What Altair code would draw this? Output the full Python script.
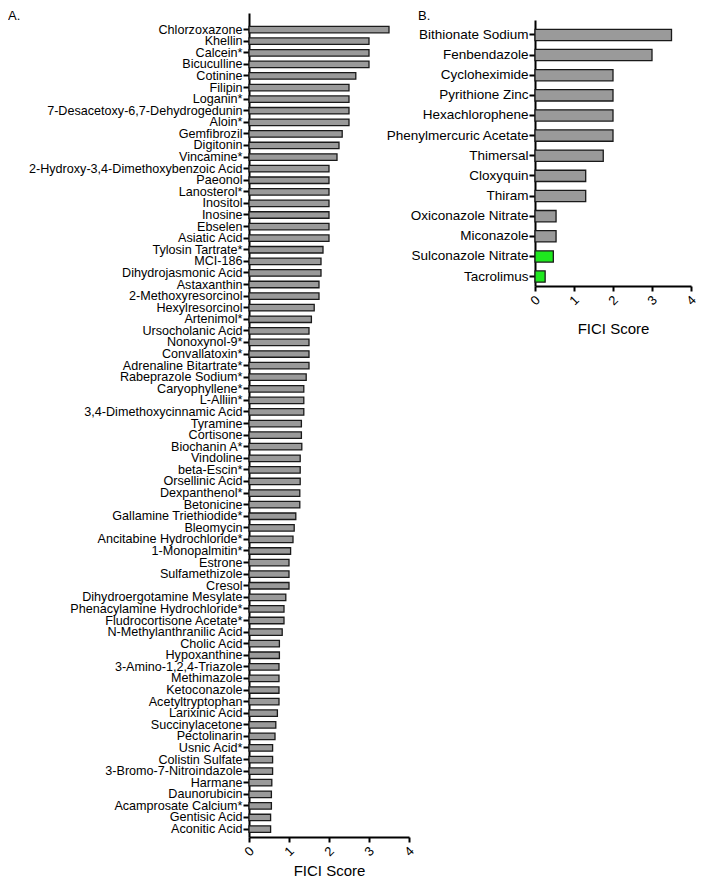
import altair as alt
import pandas as pd

# ---------------- data ----------------
names_a = [
    "Chlorzoxazone", "Khellin", "Calcein*", "Bicuculline", "Cotinine", "Filipin",
    "Loganin*", "7-Desacetoxy-6,7-Dehydrogedunin", "Aloin*", "Gemfibrozil", "Digitonin",
    "Vincamine*", "2-Hydroxy-3,4-Dimethoxybenzoic Acid", "Paeonol", "Lanosterol*",
    "Inositol", "Inosine", "Ebselen", "Asiatic Acid", "Tylosin Tartrate*", "MCI-186",
    "Dihydrojasmonic Acid", "Astaxanthin", "2-Methoxyresorcinol", "Hexylresorcinol",
    "Artenimol*", "Ursocholanic Acid", "Nonoxynol-9*", "Convallatoxin*",
    "Adrenaline Bitartrate*", "Rabeprazole Sodium*", "Caryophyllene*", "L-Alliin*",
    "3,4-Dimethoxycinnamic Acid", "Tyramine", "Cortisone", "Biochanin A*", "Vindoline",
    "beta-Escin*", "Orsellinic Acid", "Dexpanthenol*", "Betonicine",
    "Gallamine Triethiodide*", "Bleomycin", "Ancitabine Hydrochloride*",
    "1-Monopalmitin*", "Estrone", "Sulfamethizole", "Cresol",
    "Dihydroergotamine Mesylate", "Phenacylamine Hydrochloride*",
    "Fludrocortisone Acetate*", "N-Methylanthranilic Acid", "Cholic Acid",
    "Hypoxanthine", "3-Amino-1,2,4-Triazole", "Methimazole", "Ketoconazole",
    "Acetyltryptophan", "Larixinic Acid", "Succinylacetone", "Pectolinarin",
    "Usnic Acid*", "Colistin Sulfate", "3-Bromo-7-Nitroindazole", "Harmane",
    "Daunorubicin", "Acamprosate Calcium*", "Gentisic Acid", "Aconitic Acid",
]
fici_a = [
    3.5, 3.0, 3.0, 3.0, 2.67, 2.5, 2.5, 2.5, 2.5, 2.33, 2.25, 2.2,
    2.0, 2.0, 2.0, 2.0, 2.0, 2.0, 2.0, 1.85, 1.8, 1.8, 1.75, 1.75, 1.63, 1.56,
    1.5, 1.5, 1.5, 1.5, 1.43, 1.37, 1.37, 1.37, 1.31, 1.31, 1.32, 1.28, 1.28, 1.28,
    1.27, 1.27, 1.17, 1.13, 1.1, 1.04, 1.0, 1.0, 1.0, 0.92, 0.875, 0.875, 0.83,
    0.76, 0.76, 0.75, 0.75, 0.75, 0.75, 0.71, 0.67, 0.65, 0.59, 0.59, 0.59, 0.57,
    0.56, 0.56, 0.54, 0.54,
]

names_b = [
    "Bithionate Sodium", "Fenbendazole", "Cycloheximide", "Pyrithione Zinc",
    "Hexachlorophene", "Phenylmercuric Acetate", "Thimersal", "Cloxyquin", "Thiram",
    "Oxiconazole Nitrate", "Miconazole", "Sulconazole Nitrate", "Tacrolimus",
]
fici_b = [3.5, 3.0, 2.0, 2.0, 2.0, 2.0, 1.75, 1.3, 1.3, 0.54, 0.54, 0.47, 0.26]
green_b = ["Sulconazole Nitrate", "Tacrolimus"]

x_ticks = [0, 1, 2, 3, 4]
panel_labels = ["A.", "B."]

FONT = "Liberation Sans"
GRAY = "#9a9a9a"
GREEN = "#1ee81e"
EDGE = "#1a1a1a"

df_a = pd.DataFrame({"compound": names_a, "fici": fici_a})
df_b = pd.DataFrame({
    "compound": names_b,
    "fici": fici_b,
    "grp": ["green" if n in green_b else "gray" for n in names_b],
})


def x_enc(title_pad):
    return alt.X(
        "fici:Q",
        scale=alt.Scale(domain=[0, 4], nice=False),
        axis=alt.Axis(
            values=x_ticks, title="FICI Score", labelAngle=315, labelAlign="center",
            labelBaseline="middle", labelPadding=9, labelFontSize=13, labelFont=FONT,
            titleFontSize=15, titleFont=FONT, titleFontWeight="normal",
            titlePadding=title_pad, grid=False, tickSize=5, tickWidth=2, domainWidth=2,
            domainColor="black", tickColor="black", labelColor="black", titleColor="black",
        ),
    )


def y_axis(fs):
    return alt.Axis(
        title=None, labelFontSize=fs, labelFont=FONT, labelLimit=0, labelOverlap=False,
        labelPadding=1, tickSize=6, tickWidth=2, domainWidth=2, domainColor="black",
        tickColor="black", labelColor="black", grid=False,
    )


def label_layer(text, dx):
    return alt.Chart(pd.DataFrame({"t": [text]})).mark_text(
        align="left", baseline="top", fontSize=13, font=FONT, color="black"
    ).encode(x=alt.value(dx), y=alt.value(-3), text="t:N")


bars_a = alt.Chart(df_a).mark_bar(color=GRAY, stroke=EDGE, strokeWidth=1.3).encode(
    x=x_enc(5),
    y=alt.Y(
        "compound:N", sort=names_a,
        scale=alt.Scale(range=[0, 824], paddingInner=0.44, paddingOuter=0.78, align=0.74),
        axis=y_axis(12.6),
    ),
)
panel_a = alt.layer(bars_a, label_layer(panel_labels[0], -241)).properties(width=160, height=824)

bars_b = alt.Chart(df_b).mark_bar(stroke=EDGE, strokeWidth=1.3).encode(
    x=x_enc(14),
    y=alt.Y(
        "compound:N", sort=names_b,
        scale=alt.Scale(range=[7, 273], paddingInner=0.44, paddingOuter=0.325, align=0.71),
        axis=y_axis(13.5),
    ),
    color=alt.Color("grp:N", scale=alt.Scale(domain=["gray", "green"], range=[GRAY, GREEN]), legend=None),
)
panel_b = alt.layer(bars_b, label_layer(panel_labels[1], -117)).properties(width=156, height=273)

chart = alt.hconcat(panel_a, panel_b, spacing=126, bounds="flush").properties(
    padding={"top": 2, "left": 0, "right": 0, "bottom": 0}
).configure_view(stroke=None)

chart.save("out.html", embed_options={"renderer": "svg", "actions": False})
